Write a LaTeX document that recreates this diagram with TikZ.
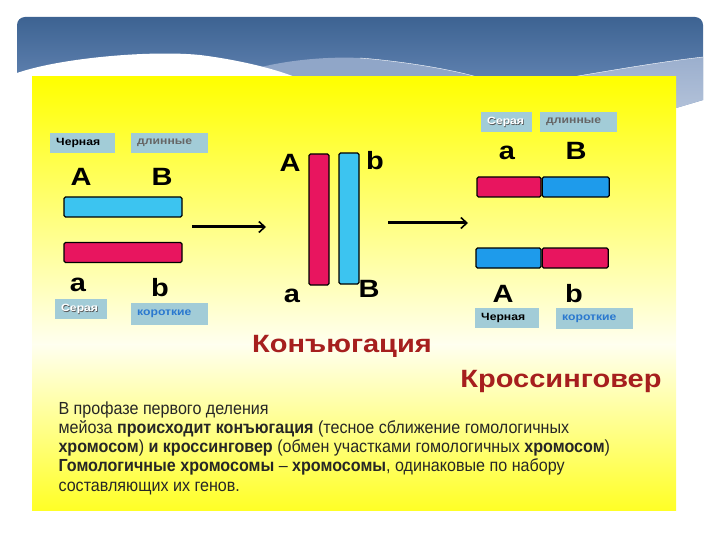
\documentclass[tikz,border=0pt]{standalone}
\usepackage{fontspec}
\setmainfont{Liberation Sans}
\newfontfamily\narrowfont[FakeStretch=0.92]{Liberation Sans}
\newfontfamily\widefont[FakeStretch=1.16]{Liberation Sans}
\usetikzlibrary{positioning, arrows.meta}

\definecolor{hdrtop}{HTML}{3D6392}
\definecolor{hdrbot}{HTML}{6E8EBC}
\definecolor{hdrpale}{HTML}{90A6C8}
\definecolor{chrred}{HTML}{E8155F}
\definecolor{chrcyan}{HTML}{3CC4F0}
\definecolor{chrblue}{HTML}{1E9BEB}
\definecolor{tagfill}{HTML}{A2CCD7}
\definecolor{tagblue}{HTML}{2A78CF}
\definecolor{titlered}{HTML}{A61F1E}

\newcommand\paletxt[1]{\makebox[0pt][l]{\color{black!65}\hspace{0.6pt}\raisebox{-0.6pt}{#1}}\textcolor{white}{#1}}

\tikzset{
  tag/.style={fill=tagfill, minimum height=20pt, inner xsep=6pt, inner ysep=0pt,
    anchor=north west, font=\widefont\bfseries\fontsize{10.5}{10.5}\selectfont},
  letter/.style={anchor=base, font=\widefont\bfseries\fontsize{25}{25}\selectfont},
  hbar/.style={draw=black, line width=1.2pt, rounded corners=1.5pt, inner sep=0pt, minimum height=20pt},
  vbar/.style={draw=black, line width=1.2pt, rounded corners=1.5pt, inner sep=0pt, minimum width=20pt},
  title/.style={anchor=base, text=titlered, font=\widefont\bfseries\fontsize{25}{25}\selectfont},
  step arrow/.style={line width=3pt, -{Straight Barb[length=6pt, width=11pt, line width=1.6pt]}},
}

\begin{document}
\begin{tikzpicture}[x=1pt, y=-1pt]
    \useasboundingbox (0,0) rectangle (720,540);

    % header band
    \shade[top color=hdrtop, bottom color=hdrbot]
      (17,77) [rounded corners=8pt] -- (17,17) -- (703,17) [sharp corners] -- (703,100) -- (676,108) -- (676,77) -- cycle;
    \fill[hdrpale] (230,77) .. controls (265,62) and (320,56) .. (360,58)
      .. controls (400,61) and (450,69) .. (477,77) -- cycle;
    \draw[white, thin] (360,58) .. controls (400,61) and (450,69) .. (477,77);
    \shade[top color=hdrpale!90, bottom color=hdrpale!70!white]
      (572,77) .. controls (620,69) and (660,62) .. (703,57) -- (703,100) -- (676,108) -- (676,77) -- cycle;
    \draw[white, thin] (572,77) .. controls (620,69) and (660,62) .. (703,57);
    \fill[white] (17,73) .. controls (60,58) and (150,50) .. (200,55)
      .. controls (240,60) and (275,69) .. (295,77) -- (17,77) -- cycle;

    % yellow panel
    \shade[top color=yellow, bottom color=yellow!6] (32,77) rectangle (676,345);
    \shade[top color=yellow!6, bottom color=yellow!85] (32,344) rectangle (676,510);

    % left pair
    \node[tag, text width=53pt] (tBlackL) at (50,133) {Черная};
    \node[tag, text width=65pt, text=black!60] (tLongL) at (131,133) {длинные};
    \node[letter] (lA) at (81,186) {A};
    \node[letter] (lB) at (162,186) {B};
    \node[hbar, fill=chrcyan, minimum width=118pt] (lBlue) at (123,207) {};
    \node[hbar, fill=chrred, minimum width=118pt] (lRed) at (123,252.5) {};
    \node[letter] (la) at (78,291) {a};
    \node[letter] (lb) at (160,296) {b};
    \node[tag, text width=40pt] (tGreyL) at (55,299) {\paletxt{Серая}};
    \node[tag, text width=65pt, minimum height=22pt, text=tagblue] (tShortL) at (131,303) {короткие};

    % conjugation
    \node[letter] (mA) at (290,172) {A};
    \node[letter] (mb) at (375,170) {b};
    \node[vbar, fill=chrred, minimum height=131pt] (mRed) at (319,219.5) {};
    \node[vbar, fill=chrcyan, minimum height=131pt] (mBlue) at (349,218.5) {};
    \node[letter] (ma) at (292,302) {a};
    \node[letter] (mB) at (369,297) {B};
    \node[title] (tConj) at (342,352) {Конъюгация};

    % crossing over
    \node[tag, text width=39pt] (tGreyR) at (481,112) {\paletxt{Серая}};
    \node[tag, text width=65pt, text=black!60] (tLongR) at (540,112) {длинные};
    \node[letter] (ra) at (507,160) {a};
    \node[letter] (rB) at (576,160) {B};
    \node[hbar, fill=chrred, minimum width=64pt] (rTopL) at (509,187) {};
    \node[hbar, fill=chrblue, minimum width=67pt, right=0pt of rTopL] (rTopR) {};
    \node[hbar, fill=chrblue, minimum width=65pt] (rBotL) at (508.5,258) {};
    \node[hbar, fill=chrred, minimum width=66pt, right=0pt of rBotL] (rBotR) {};
    \node[letter] (rA) at (503,302) {A};
    \node[letter] (rb) at (574,302) {b};
    \node[tag, text width=52pt] (tBlackR) at (475,308) {Черная};
    \node[tag, text width=65pt, minimum height=21pt, text=tagblue] (tShortR) at (556,308) {короткие};
    \node[title] (tCross) at (561,387) {Кроссинговер};

    % arrows
    \coordinate (arr1s) at (192,227);
    \coordinate (arr1e) at (266,227);
    \coordinate (arr2s) at (388,223);
    \coordinate (arr2e) at (468,223);
    \draw[step arrow] (arr1s) -- (arr1e);
    \draw[step arrow] (arr2s) -- (arr2e);

    % caption
    \node[anchor=base west, align=left, text=black!85,
      font=\narrowfont\fontsize{17.5}{19.2}\selectfont] (txt) at (55,491)
      {В профазе первого деления\\
       мейоза \textbf{происходит конъюгация} (тесное сближение гомологичных\\
       \textbf{хромосом}) \textbf{и кроссинговер} (обмен участками гомологичных \textbf{хромосом})\\
       \textbf{Гомологичные хромосомы} – \textbf{хромосомы}, одинаковые по набору\\
       составляющих их генов.};
\end{tikzpicture}
\end{document}
